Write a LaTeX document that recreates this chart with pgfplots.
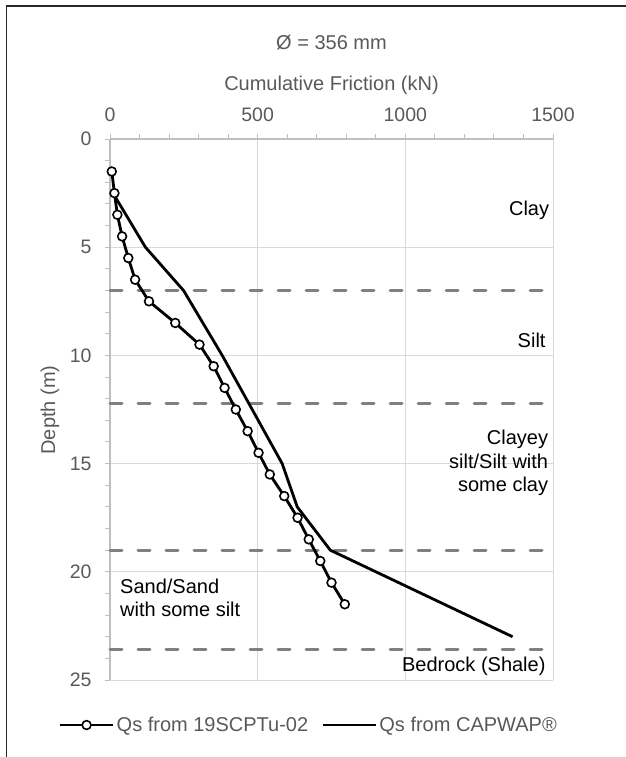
\documentclass[border=0pt]{standalone}
\usepackage{fontspec}
\setmainfont{Liberation Sans}
\usepackage{pgfplots}
\pgfplotsset{compat=1.18}
\definecolor{txt}{HTML}{595959}
\definecolor{gridc}{HTML}{D9D9D9}
\definecolor{axl}{HTML}{BFBFBF}
\definecolor{dashc}{HTML}{808080}
\newcommand{\fs}{\fontsize{20bp}{24bp}\selectfont}
\begin{document}
\begin{tikzpicture}
\useasboundingbox (0,0) rectangle (626bp,-757bp);
\draw[line width=1.5bp, color=black!85] (6.5bp,-757bp) -- (6.5bp,-6bp) -- (626bp,-6bp);
\begin{axis}[
  at={(110bp,-680bp)}, anchor=south west,
  width=443bp, height=541bp, scale only axis,
  xmin=0, xmax=1500, ymin=0, ymax=25, y dir=reverse,
  axis x line*=top, axis y line*=left,
  xtick={0,500,1000,1500}, ytick={0,5,10,15,20,25},
  minor x tick num=4, minor y tick num=4,
  tick align=outside, major tick length=5bp, minor tick length=5bp,
  grid=major, major grid style={color=gridc, line width=1bp},
  axis line style={color=axl, line width=1.2bp},
  tick style={color=axl, line width=1bp},
  /pgf/number format/assume math mode=true,
  /pgf/number format/1000 sep={},
  ticklabel style={font=\fontsize{19.5bp}{23bp}\selectfont, text=txt},
  xticklabel style={yshift=9bp},
  yticklabel style={xshift=-10bp},
  legend columns=2,
  legend style={at={(axis description cs:-0.1167,-0.0832)}, anchor=west,
    draw=none, fill=none, font=\fs, text=txt, inner sep=0pt,
    /tikz/every even column/.append style={column sep=11bp}},
  legend image code/.code={\draw[mark repeat=2,mark phase=2,#1] plot coordinates {(0bp,0bp) (26.7bp,0bp) (53.4bp,0bp)};},
  clip=false,
]
\addplot[forget plot, color=dashc, line width=3bp, dash pattern=on 12bp off 16bp, line cap=round] coordinates {(0,7) (1500,7)};
\addplot[forget plot, color=dashc, line width=3bp, dash pattern=on 12bp off 16bp, line cap=round] coordinates {(0,12.2) (1500,12.2)};
\addplot[forget plot, color=dashc, line width=3bp, dash pattern=on 12bp off 16bp, line cap=round] coordinates {(0,19) (1500,19)};
\addplot[forget plot, color=dashc, line width=3bp, dash pattern=on 12bp off 16bp, line cap=round] coordinates {(0,23.6) (1500,23.6)};
\addplot[color=black, line width=2.8bp, mark=*, mark size=4.4bp,
  mark options={fill=white, draw=black, line width=1.6bp, solid}] coordinates {
 (6,1.5) (15,2.5) (25,3.5) (41,4.5) (62,5.5) (85,6.5) (132,7.5) (221,8.5)
 (303,9.5) (351,10.5) (388,11.5) (426,12.5) (466,13.5) (503,14.5) (541,15.5)
 (590,16.5) (635,17.5) (673,18.5) (712,19.5) (750,20.5) (795,21.5)};
\addlegendentry{Qs from 19SCPTu-02}
\addplot[color=black, line width=2.8bp] coordinates {
 (10,2.5) (120,5) (249,7) (380,10) (583,15) (634,17) (746,19) (1363,23)};
\addlegendentry{Qs from CAPWAP®}
\end{axis}
\node[text=txt, font=\fs, anchor=base, inner sep=0pt] at (331.5bp,-49.3bp) {Ø = 356 mm};
\node[text=txt, font=\fs, anchor=base, inner sep=0pt] at (331.5bp,-90.7bp) {Cumulative Friction (kN)};
\node[text=txt, font=\fs, rotate=90, anchor=base, inner sep=0pt] at (55bp,-410bp) {Depth (m)};
\node[font=\fs, anchor=base east, inner sep=0pt] at (549.3bp,-215bp) {Clay};
\node[font=\fs, anchor=base east, inner sep=0pt] at (545.7bp,-347.3bp) {Silt};
\node[font=\fs, anchor=base east, inner sep=0pt] at (548.3bp,-444.3bp) {Clayey};
\node[font=\fs, anchor=base east, inner sep=0pt] at (548.3bp,-468.3bp) {silt/Silt with};
\node[font=\fs, anchor=base east, inner sep=0pt] at (548.3bp,-491.7bp) {some clay};
\node[font=\fs, anchor=base west, inner sep=0pt] at (120bp,-593.3bp) {Sand/Sand};
\node[font=\fs, anchor=base west, inner sep=0pt] at (120bp,-616.7bp) {with some silt};
\node[font=\fs, anchor=base east, inner sep=0pt] at (545.7bp,-671.7bp) {Bedrock (Shale)};
\end{tikzpicture}
\end{document}
